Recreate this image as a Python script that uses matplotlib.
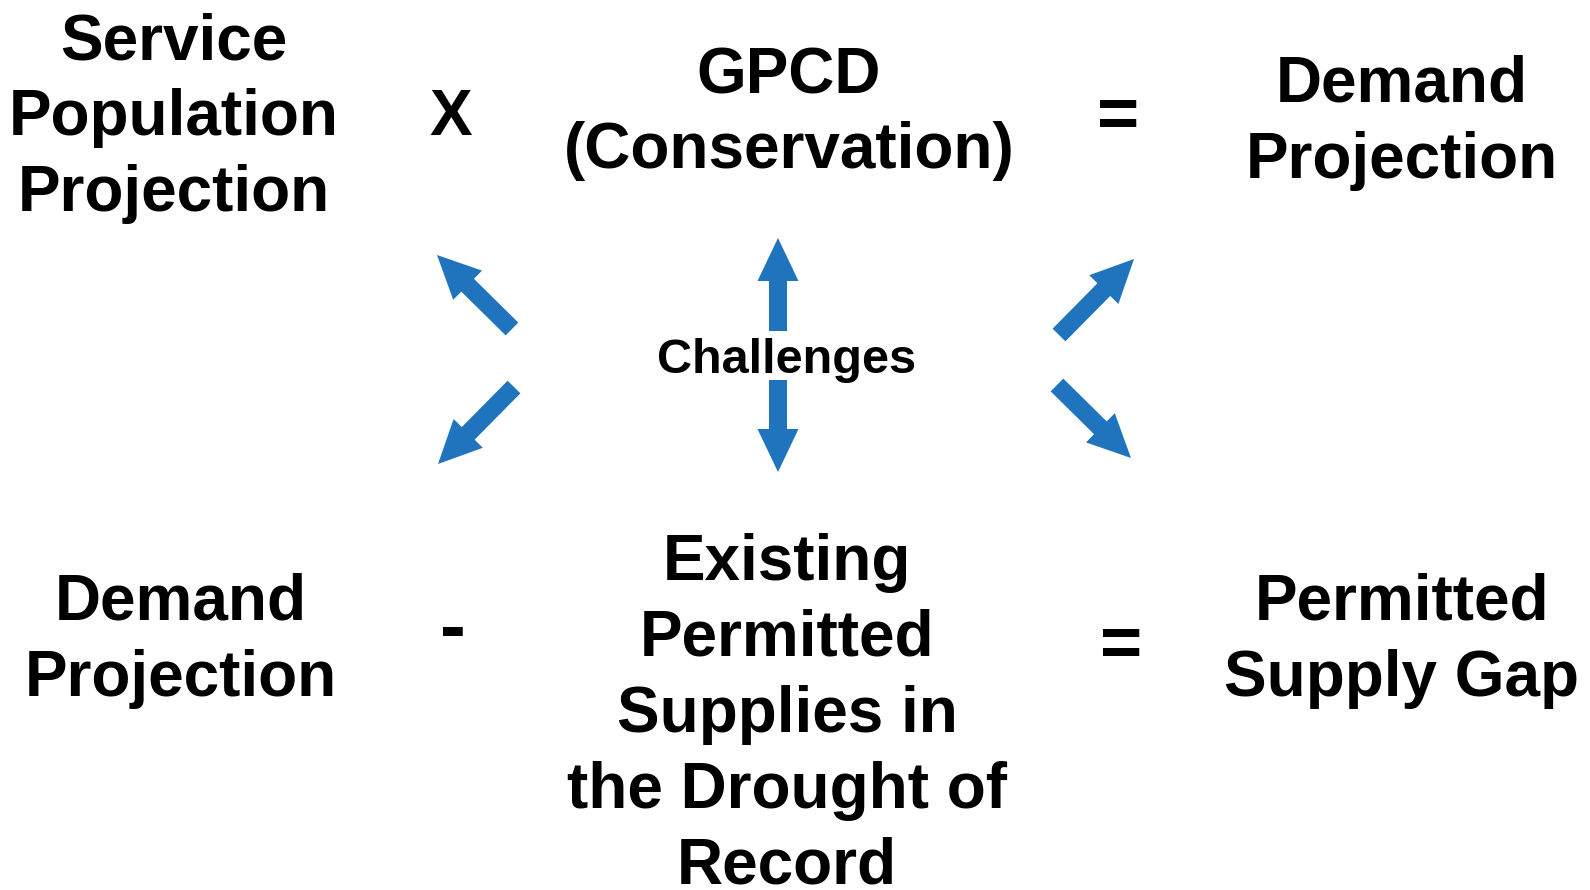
import matplotlib
matplotlib.use('Agg')
import matplotlib.pyplot as plt
from matplotlib.patches import FancyArrow

plt.rcParams['font.family'] = ['Liberation Sans', 'DejaVu Sans']

# text blocks of the diagram
top_left = ['Service', 'Population', 'Projection']
top_mid = ['GPCD', '(Conservation)']
top_right = ['Demand', 'Projection']
bot_left = ['Demand', 'Projection']
bot_mid = ['Existing', 'Permitted', 'Supplies in', 'the Drought of', 'Record']
bot_right = ['Permitted', 'Supply Gap']
center_word = 'Challenges'
ops_top = ['X', '=']
ops_bot = ['-', '=']

blue = '#1f74bd'
W, H = 1590, 890

fig = plt.figure(figsize=(15.9, 8.9), dpi=100)
ax = fig.add_axes([0, 0, 1, 1])
ax.set_xlim(0, W)
ax.set_ylim(H, 0)
ax.axis('off')


def block(lines, x, y0, step=76, size=46):
    for i, s in enumerate(lines):
        ax.text(x, y0 + i * step, s, ha='center', va='baseline',
                fontsize=size, fontweight='bold')


block(top_left, 174, 59)
block(top_mid, 789, 93, step=75)
block(top_right, 1402, 101, step=77)
block(bot_left, 181, 619, step=77)
block(bot_mid, 787, 580, step=76)
block(bot_right, 1402, 619, step=77)

ax.text(451, 135, ops_top[0], ha='center', va='baseline', fontsize=46, fontweight='bold')
ax.text(1118, 137, ops_top[1], ha='center', va='baseline', fontsize=52, fontweight='bold')
ax.text(453, 631, ops_bot[0], ha='center', va='center', fontsize=56, fontweight='bold')
ax.text(1121, 666, ops_bot[1], ha='center', va='baseline', fontsize=52, fontweight='bold')

ax.text(787, 373, center_word, ha='center', va='baseline', fontsize=35, fontweight='bold')

# arrows: tail -> tip
arrows = [
    ((778, 331), (778, 238)),
    ((778, 380), (778, 472)),
    ((512, 329), (437, 255)),
    ((514, 387), (438, 464)),
    ((1059, 335), (1134, 259)),
    ((1057, 385), (1131, 458)),
]
for (x0, y0), (x1, y1) in arrows:
    ax.add_patch(FancyArrow(x0, y0, x1 - x0, y1 - y0, width=18, head_width=41,
                            head_length=43, length_includes_head=True,
                            color=blue, lw=0))

fig.savefig('out.png', dpi=100, facecolor='white')
